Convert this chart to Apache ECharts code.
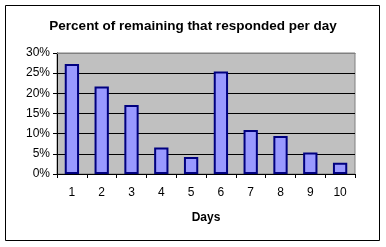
<!DOCTYPE html>
<html><head><meta charset="utf-8">
<script src="https://cdn.jsdelivr.net/npm/echarts@6/dist/echarts.min.js"></script>
<style>html,body{margin:0;padding:0;background:#fff}#c{width:386px;height:247px}</style>
</head><body><div id="c"></div>
<script>
const titleText = "Percent of remaining that responded per day";
const xAxisName = "Days";
const days = ["1","2","3","4","5","6","7","8","9","10"];
const responseRate = [27.3, 21.7, 17.1, 6.6, 4.2, 25.4, 10.9, 9.4, 5.3, 2.8];
const yTicks = [0, 5, 10, 15, 20, 25, 30];

const chart = echarts.init(document.getElementById('c'), null, {renderer:'canvas'});
chart.setOption({
  animation:false,
  backgroundColor:'#ffffff',
  textStyle:{fontFamily:'Arial, "Liberation Sans", sans-serif'},
  graphic:[
    {type:'rect', shape:{x:5.5,y:5.5,width:374,height:235}, style:{fill:'none', stroke:'#000', lineWidth:1}, silent:true, z:-1},
    {type:'line', shape:{x1:57, y1:53.5, x2:355.5, y2:53.5}, style:{stroke:'#808080', lineWidth:1}, silent:true, z:100}
  ],
  title:{text:titleText, left:'center', top:14, textStyle:{fontSize:13.5, fontWeight:'bold', color:'#000', fontFamily:'Arial, "Liberation Sans", sans-serif'}},
  grid:{left:57, right:31, top:53, bottom:73, show:true, backgroundColor:'#C0C0C0', borderColor:'#808080', borderWidth:1},
  xAxis:{type:'category', data:days, name:xAxisName, nameLocation:'middle', nameGap:38,
    nameTextStyle:{fontSize:12, fontWeight:'bold', color:'#000'},
    axisLine:{lineStyle:{color:'#000', width:1}},
    axisTick:{show:true, alignWithLabel:false, length:4, inside:false, lineStyle:{color:'#000'}},
    axisLabel:{color:'#000', fontSize:12, margin:13}},
  yAxis:{type:'value', min:yTicks[0], max:yTicks[yTicks.length-1], interval:5,
    axisLine:{show:true, lineStyle:{color:'#000', width:1}},
    axisTick:{show:true, length:4, lineStyle:{color:'#000'}},
    axisLabel:{color:'#000', fontSize:12, margin:7, formatter:v=>v+'%'},
    splitLine:{show:true, lineStyle:{color:'#000', width:1}}},
  series:[{type:'bar', data:responseRate, barWidth:'48%',
    itemStyle:{color:'#9999FF', borderColor:'#000080', borderWidth:2}}]
});
</script></body></html>
